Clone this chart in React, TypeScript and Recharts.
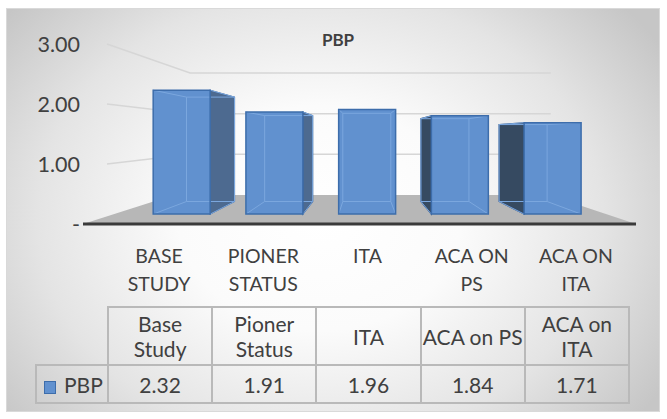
import React from "react";
import { BarChart, Bar, XAxis, YAxis, CartesianGrid } from "recharts";

// chart data
const categories = ["Base Study", "Pioner Status", "ITA", "ACA on PS", "ACA on ITA"];
const axisLines = [["BASE", "STUDY"], ["PIONER", "STATUS"], ["ITA"], ["ACA ON", "PS"], ["ACA ON", "ITA"]];
const tableLines = [["Base", "Study"], ["Pioner", "Status"], ["ITA"], ["ACA on PS"], ["ACA on", "ITA"]];
const pbpValues = [2.32, 1.91, 1.96, 1.84, 1.71];
const yTicks = [0, 1, 2, 3];
const seriesName = "PBP";

const data = categories.map((name, i) => ({ name, value: pbpValues[i] }));

// perspective of the 3D look (vanishing point + depth factors)
const VX = 365;
const VY = 134;
const BAR_FRONT = 0.89;
const BAR_BACK = 0.75;
const WALL_BACK = 0.678;
const WALL_LEFT = 107;
const WALL_RIGHT = 639;
const FLOOR_LEFT = 83;
const FLOOR_RIGHT = 636;
const PLOT_BOTTOM = 224;

const TEXT = "#404040";
const FONT = "Lato, 'Open Sans', sans-serif";

const proj = (px: number, py: number, f: number) => [VX + f * (px - VX), VY + f * (py - VY)];
const pts = (list: number[][]) => list.map((p) => `${p[0]},${p[1]}`).join(" ");

// back wall gridlines + floor, drawn from the y axis tick positions
const WallLine = (p: any) => {
  const { y1, key } = p;
  if (Math.abs(y1 - PLOT_BOTTOM) < 1) {
    const bl = proj(FLOOR_LEFT, y1, WALL_BACK);
    const br = proj(FLOOR_RIGHT, y1, WALL_BACK);
    return (
      <g key={key}>
        <polygon points={pts([[FLOOR_LEFT, y1], [FLOOR_RIGHT, y1], br, bl])} fill="#b7b7b7" />
        <line x1={FLOOR_LEFT} y1={y1} x2={FLOOR_RIGHT} y2={y1} stroke="#3a3a3a" strokeWidth={3} />
      </g>
    );
  }
  const l = proj(WALL_LEFT, y1, WALL_BACK);
  const r = proj(WALL_RIGHT, y1, WALL_BACK);
  return (
    <polyline
      key={key}
      points={pts([[WALL_LEFT, y1], l, r])}
      fill="none"
      stroke="#d6d6d6"
      strokeWidth={1.5}
    />
  );
};

const Bar3D = (props: any) => {
  const { x, y, width, height } = props;
  const L = x, R = x + width, T = y, B = y + height;
  const fTL = proj(L, T, BAR_FRONT), fTR = proj(R, T, BAR_FRONT);
  const fBL = proj(L, B, BAR_FRONT), fBR = proj(R, B, BAR_FRONT);
  const bTL = proj(L, T, BAR_BACK), bTR = proj(R, T, BAR_BACK);
  const bBL = proj(L, B, BAR_BACK), bBR = proj(R, B, BAR_BACK);
  let side = null;
  if (R < VX) {
    side = <polygon points={pts([fTR, bTR, bBR, fBR])} fill="#4d6a90" stroke="#3b5f8f" strokeWidth={1.2} />;
  } else if (L > VX) {
    side = <polygon points={pts([bTL, fTL, fBL, bBL])} fill="#364a61" stroke="#2f4f7a" strokeWidth={1.2} />;
  }
  return (
    <g>
      {side}
      <polygon points={pts([fTL, fTR, fBR, fBL])} fill="#6191cf" />
      <polygon points={pts([bTL, bTR, bBR, bBL])} fill="none" stroke="#7ba7de" strokeWidth={1} />
      <line x1={fTL[0]} y1={fTL[1]} x2={bTL[0]} y2={bTL[1]} stroke="#7ba7de" />
      <line x1={fTR[0]} y1={fTR[1]} x2={bTR[0]} y2={bTR[1]} stroke="#7ba7de" />
      <line x1={fBL[0]} y1={fBL[1]} x2={bBL[0]} y2={bBL[1]} stroke="#7ba7de" />
      <line x1={fBR[0]} y1={fBR[1]} x2={bBR[0]} y2={bBR[1]} stroke="#7ba7de" />
      <polygon points={pts([fTL, fTR, fBR, fBL])} fill="none" stroke="#3d6dab" strokeWidth={1.5} />
    </g>
  );
};

const ValueTick = (props: any) => {
  const { x, y, payload } = props;
  const v = payload.value;
  return (
    <text x={x} y={y} dy="0.36em" textAnchor="end" fontSize={21.5} fill={TEXT} fontFamily={FONT}>
      {v === 0 ? "-" : v.toFixed(2)}
    </text>
  );
};

const CategoryTick = (props: any) => {
  const { x, y, payload } = props;
  const lines = axisLines[categories.indexOf(payload.value)] || [payload.value];
  return (
    <text textAnchor="middle" fontSize={19.5} fill={TEXT} fontFamily={FONT}>
      {lines.map((t, i) => (
        <tspan key={i} x={x} y={y + 39 + i * 28}>
          {t}
        </tspan>
      ))}
    </text>
  );
};

const cell: React.CSSProperties = {
  border: "2px solid #b9b9b9",
  textAlign: "center",
  verticalAlign: "middle",
  padding: 0,
  whiteSpace: "nowrap",
};

const App: React.FC = () => {
  return (
    <div
      style={{
        position: "absolute",
        left: 0,
        top: 0,
        width: 667,
        height: 419,
        background: "#ffffff",
        fontFamily: FONT,
        color: TEXT,
      }}
    >
      <div
        style={{
          position: "absolute",
          left: 6,
          top: 8,
          width: 654,
          height: 404,
          boxSizing: "border-box",
          border: "1px solid #d9d9d9",
          background:
            "radial-gradient(ellipse 62% 80% at 48% 52%, #ffffff 0%, #fbfbfb 35%, #e4e4e4 70%, #c6c6c6 100%)",
        }}
      />
      <div
        style={{
          position: "absolute",
          left: 288,
          top: 30,
          width: 100,
          textAlign: "center",
          fontSize: 17,
          lineHeight: "20px",
          fontWeight: 700,
        }}
      >
        {seriesName}
      </div>
      <div style={{ position: "absolute", left: 0, top: 0 }}>
        <BarChart
          width={667}
          height={300}
          data={data}
          margin={{ top: 44, right: 39, bottom: 6, left: 47 }}
        >
          <CartesianGrid vertical={false} horizontal={WallLine} />
          <XAxis
            dataKey="name"
            tickLine={false}
            axisLine={false}
            tickSize={0}
            tickMargin={0}
            height={70}
            interval={0}
            tick={<CategoryTick />}
          />
          <YAxis
            domain={[0, 3]}
            ticks={yTicks}
            width={60}
            tickLine={false}
            axisLine={false}
            tickSize={0}
            tickMargin={27}
            interval={0}
            tick={<ValueTick />}
          />
          <Bar dataKey="value" barSize={64} isAnimationActive={false} shape={Bar3D} />
        </BarChart>
      </div>
      <table
        style={{
          position: "absolute",
          left: 35,
          top: 306,
          width: 593,
          borderCollapse: "collapse",
          tableLayout: "fixed",
          fontSize: 21,
          lineHeight: "25px",
        }}
      >
        <colgroup>
          <col style={{ width: 72 }} />
          {categories.map((c) => (
            <col key={c} style={{ width: 104.2 }} />
          ))}
        </colgroup>
        <tbody>
          <tr style={{ height: 58 }}>
            <td style={{ ...cell, borderTop: "none", borderLeft: "none" }} />
            {tableLines.map((lines, i) => (
              <td key={i} style={cell}>
                {lines.map((t, j) => (
                  <div key={j}>{t}</div>
                ))}
              </td>
            ))}
          </tr>
          <tr style={{ height: 38 }}>
            <td style={{ ...cell, textAlign: "left", paddingLeft: 7 }}>
              <span
                style={{
                  display: "inline-block",
                  width: 10,
                  height: 11,
                  background: "#6191cf",
                  border: "1px solid #3d6dab",
                  marginRight: 8,
                  verticalAlign: "-1px",
                }}
              />
              {seriesName}
            </td>
            {pbpValues.map((v, i) => (
              <td key={i} style={cell}>
                {v.toFixed(2)}
              </td>
            ))}
          </tr>
        </tbody>
      </table>
    </div>
  );
};

export default App;
